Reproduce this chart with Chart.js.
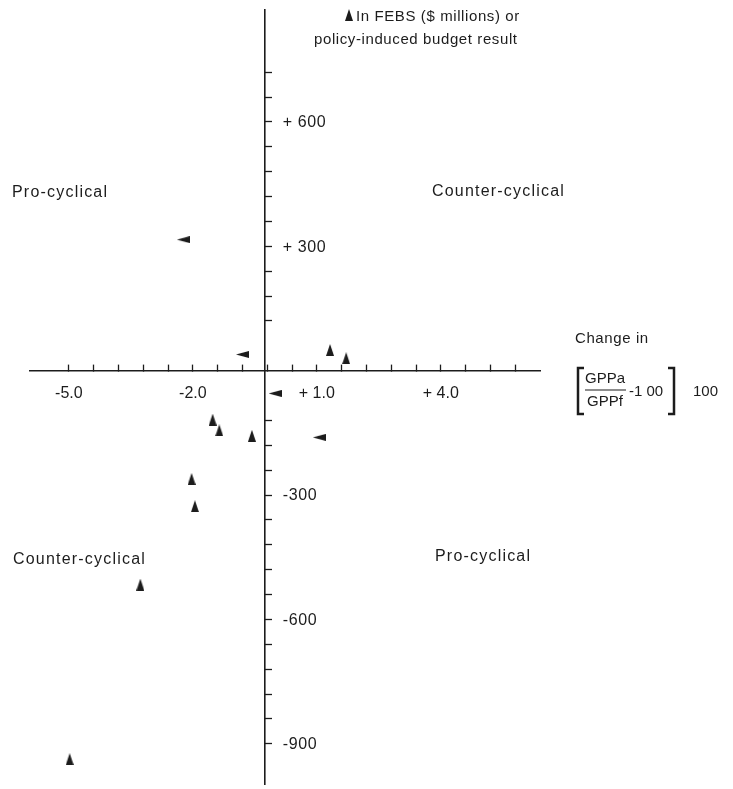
<!DOCTYPE html>
<html>
<head>
<meta charset="utf-8">
<script src="https://cdn.jsdelivr.net/npm/chart.js@4.4.0/dist/chart.umd.min.js"></script>
<style>
  html, body { margin: 0; padding: 0; background: #fff; }
  #wrap { width: 733px; height: 789px; position: relative; }
</style>
</head>
<body>
<div id="wrap"><canvas id="cycleChart"></canvas></div>
<script>
// x = change in (GPPa/GPPf - 1.00) x 100, y = $ millions
const febsX = [1.32, 1.71, -1.52, -1.36, -0.57, -2.03, -1.95, -3.27, -4.98]
const febsY = [50, 30, -118, -144, -157, -261, -327, -516, -937]
const policyX = [-2.23, -0.80, -0.01, 1.06]
const policyY = [316, 39, -55, -161]

// tick marks and their labels
const xTickStart = -5.0
const xTickStep = 0.6
const xTickCount = 19
const xLabelValues = [-5, -2, 1, 4]
const xLabelTexts = ['-5.0', '-2.0', '+ 1.0', '+ 4.0']
const yTickValues = [720, 660, 600, 540, 480, 420, 360, 300, 240, 180, 120,
  -120, -180, -240, -300, -360, -420, -480, -540, -600, -660, -720, -780, -840, -900]
const yLabelValues = [600, 300, -300, -600, -900]
const yLabelTexts = ['+ 600', '+ 300', '-300', '-600', '-900']
const yAxisAt = -0.26

const ink = '#1c1c1c'
const font = '"Liberation Sans", Arial, sans-serif'

function makeTriangle(w, h) {
    const c = document.createElement('canvas')
    c.width = w
    c.height = h
    const g = c.getContext('2d')
    g.fillStyle = ink
    g.beginPath()
    g.moveTo(w / 2, 0)
    g.lineTo(w, h)
    g.lineTo(0, h)
    g.closePath()
    g.fill()
    return c
}
const upTri = makeTriangle(8, 12)
const sideTri = makeTriangle(7, 13)

const annotations = {
    id: 'annotations',
    afterDraw(chart) {
        const ctx = chart.ctx
        const xs = chart.scales.x
        const ys = chart.scales.y
        ctx.save()
        ctx.fillStyle = ink
        ctx.strokeStyle = ink
        ctx.textBaseline = 'middle'
        ctx.textAlign = 'left'

        // y tick labels, to the right of the axis
        ctx.font = '16px ' + font
        ctx.letterSpacing = '0.6px'
        const axisPx = xs.getPixelForValue(yAxisAt)
        yLabelValues.forEach((v, i) => {
            ctx.fillText(yLabelTexts[i], axisPx + 18, ys.getPixelForValue(v) + 1)
        })

        ctx.letterSpacing = '1.2px'
        ctx.fillText('Pro-cyclical', 12, 193)
        ctx.fillText('Counter-cyclical', 432, 192)
        ctx.fillText('Counter-cyclical', 13, 560)
        ctx.fillText('Pro-cyclical', 435, 557)

        ctx.font = '15px ' + font
        ctx.letterSpacing = '0.6px'
        ctx.drawImage(upTri, 345, 9)
        ctx.fillText('In FEBS ($ millions) or', 356, 17)
        ctx.fillText('policy-induced budget result', 314, 40)

        ctx.fillText('Change in', 575, 339)

        // [ GPPa / GPPf - 1.00 ] 100
        ctx.lineWidth = 2.5
        ctx.beginPath()
        ctx.moveTo(584, 368); ctx.lineTo(578, 368); ctx.lineTo(578, 414); ctx.lineTo(584, 414)
        ctx.moveTo(668, 368); ctx.lineTo(674, 368); ctx.lineTo(674, 414); ctx.lineTo(668, 414)
        ctx.stroke()
        ctx.lineWidth = 1.2
        ctx.beginPath()
        ctx.moveTo(585, 390); ctx.lineTo(626, 390)
        ctx.stroke()
        ctx.letterSpacing = '0px'
        ctx.textAlign = 'center'
        ctx.fillText('GPPa', 605, 379)
        ctx.fillText('GPPf', 605, 402)
        ctx.textAlign = 'left'
        ctx.fillText('-1 00', 629, 392)
        ctx.fillText('100', 693, 392)
        ctx.restore()
    }
}

new Chart(document.getElementById('cycleChart'), {
    type: 'scatter',
    data: {
        datasets: [{
            label: 'FEBS',
            data: febsX.map((x, i) => ({x: x, y: febsY[i]})),
            pointStyle: upTri,
            pointRotation: 0,
            backgroundColor: ink,
            borderColor: ink
        }, {
            label: 'Policy-induced budget result',
            data: policyX.map((x, i) => ({x: x, y: policyY[i]})),
            pointStyle: sideTri,
            pointRotation: -90,
            backgroundColor: ink,
            borderColor: ink
        }]
    },
    options: {
        responsive: true,
        maintainAspectRatio: false,
        animation: false,
        layout: {
            padding: {left: 30, right: 193, top: 10, bottom: 0}
        },
        plugins: {
            legend: {display: false},
            tooltip: {enabled: false}
        },
        scales: {
            x: {
                type: 'linear',
                min: -5.94,
                max: 6.4,
                position: {y: 0},
                afterBuildTicks: (scale) => {
                    const ticks = []
                    for (let i = 0; i < xTickCount; i++) {
                        ticks.push({value: Math.round((xTickStart + i * xTickStep) * 10) / 10})
                    }
                    scale.ticks = ticks
                },
                border: {display: true, color: ink, width: 1.6},
                grid: {
                    drawOnChartArea: false,
                    drawTicks: true,
                    tickLength: -7,
                    tickColor: ink,
                    tickWidth: 1.3
                },
                ticks: {
                    padding: 20,
                    color: ink,
                    font: {family: font, size: 16},
                    maxRotation: 0,
                    autoSkip: false,
                    callback: (value) => {
                        const i = xLabelValues.indexOf(Math.round(value * 10) / 10)
                        return i >= 0 ? xLabelTexts[i] : ''
                    }
                }
            },
            y: {
                type: 'linear',
                min: -997,
                max: 870,
                position: {x: yAxisAt},
                afterBuildTicks: (scale) => {
                    scale.ticks = yTickValues.map(v => ({value: v}))
                },
                border: {display: true, color: ink, width: 1.6},
                grid: {
                    drawOnChartArea: false,
                    drawTicks: true,
                    tickLength: -8,
                    tickColor: ink,
                    tickWidth: 1.3
                },
                ticks: {display: false}
            }
        }
    },
    plugins: [annotations]
})
</script>
</body>
</html>
